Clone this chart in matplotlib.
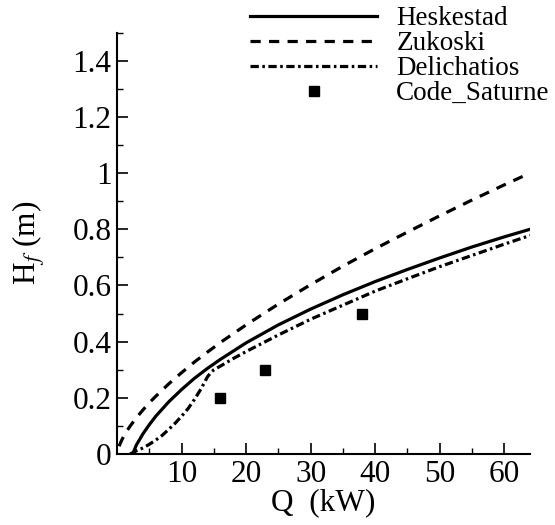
import numpy as np
import matplotlib
matplotlib.use("Agg")
import matplotlib.pyplot as plt

# values
q_heskestad = [2.4, 3, 4, 5, 6, 8, 10, 12, 14, 16, 20, 25, 30, 35, 40, 45, 50, 55, 60, 64]
h_heskestad = [0.0, 0.033, 0.072, 0.105, 0.135, 0.186, 0.230, 0.270, 0.305, 0.337,
               0.396, 0.460, 0.516, 0.567, 0.614, 0.657, 0.698, 0.737, 0.773, 0.800]

q_zukoski = [0.3, 0.7, 1, 1.5, 2, 3, 4, 5, 6, 8, 10, 12, 14, 16, 20, 25, 30, 35, 40, 45, 50, 55, 60, 64]
h_zukoski = [0.028, 0.049, 0.0625, 0.082, 0.099, 0.130, 0.157, 0.183, 0.206, 0.250, 0.290, 0.328,
             0.363, 0.397, 0.460, 0.534, 0.603, 0.669, 0.731, 0.790, 0.848, 0.904, 0.958, 1.0]

q_delichatios = [2.0, 3, 4, 5, 6, 7, 8, 9, 10, 11, 12, 13, 14, 14.6, 15, 16, 18, 20, 25, 30,
                 35, 40, 45, 50, 55, 60, 64]
h_delichatios = [0.0, 0.012, 0.022, 0.035, 0.050, 0.067, 0.088, 0.110, 0.135, 0.162, 0.195,
                 0.232, 0.275, 0.292, 0.300, 0.313, 0.340, 0.365, 0.424, 0.480, 0.530, 0.580,
                 0.624, 0.667, 0.707, 0.747, 0.778]

q_saturne = [16, 23, 38]
h_saturne = [0.2, 0.3, 0.5]

plt.rcParams['font.family'] = ['Liberation Serif', 'DejaVu Serif']
plt.rcParams['mathtext.fontset'] = 'stix'

fig = plt.figure(figsize=(5.55, 5.25), dpi=100)
ax = fig.add_axes([0.211, 0.135, 0.744, 0.803])

lw = 2.3
ax.plot(q_heskestad, h_heskestad, color='black', lw=lw, linestyle='-', label='Heskestad')
ax.plot(q_zukoski, h_zukoski, color='black', lw=lw, linestyle=(0, (3.2, 2.6)), label='Zukoski')
ax.plot(q_delichatios, h_delichatios, color='black', lw=lw,
        linestyle=(0, (2.6, 1.1, 0.8, 1.1)), label='Delichatios')
ax.plot(q_saturne, h_saturne, 's', color='black', markersize=7, label='Code_Saturne')

ax.set_xlim(0, 64)
ax.set_ylim(0, 1.5)
ax.set_xticks([10, 20, 30, 40, 50, 60])
ax.set_xticks([5, 15, 25, 35, 45, 55], minor=True)
ax.set_yticks([0, 0.2, 0.4, 0.6, 0.8, 1.0, 1.2, 1.4])
ax.set_yticklabels(['0', '0.2', '0.4', '0.6', '0.8', '1', '1.2', '1.4'])
ax.set_yticks([0.1, 0.3, 0.5, 0.7, 0.9, 1.1, 1.3, 1.5], minor=True)

for side in ['top', 'right']:
    ax.spines[side].set_visible(False)
for side in ['left', 'bottom']:
    ax.spines[side].set_linewidth(1.5)

ax.tick_params(which='major', direction='in', length=8, width=1.2, labelsize=22.5, pad=4)
ax.tick_params(which='minor', direction='in', length=4.5, width=1.0)

ax.set_xlabel('Q  (kW)', fontsize=22.5, labelpad=0)
ax.set_ylabel(r'H$_{\mathit{f}}$ (m)', fontsize=22.5, labelpad=18)

ax.legend(loc='upper left', bbox_to_anchor=(250 / 555, 1 - 6 / 525), bbox_transform=fig.transFigure,
          frameon=False, fontsize=19.5, handlelength=4.7, handletextpad=0.7, labelspacing=0.0,
          borderpad=0, borderaxespad=0, numpoints=1)

fig.savefig('out.png', dpi=100)
